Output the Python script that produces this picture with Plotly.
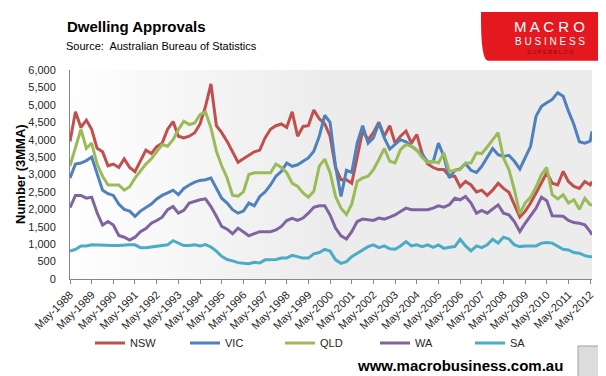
import plotly.graph_objects as go
import pandas as pd

# ---- data (quarterly readings, 3-month moving average, dwelling approvals) ----
dates = [d.strftime("%Y-%m-%d") for d in pd.date_range("1988-05-01", "2012-05-01", freq="3MS")] + ["2012-06-01"]

nsw = [3950, 4800, 4350, 4560, 4300, 3750, 3650, 3250, 3300, 3200, 3450, 3200, 3080, 3400, 3700, 3600, 3800,
       3900, 4300, 4520, 4100, 4050, 4100, 4200, 4450, 4950, 5600, 4400, 4200, 3950, 3650, 3350, 3450,
       3550, 3650, 3700, 4050, 4300, 4400, 4450, 4350, 4800, 4100, 4380, 4400, 4850, 4600, 4450, 4100,
       3200, 2850, 2850, 2750, 3500, 4250, 4000, 4200, 4500, 4100, 4400, 3900, 4100, 4250, 3900, 4150,
       3600, 3300, 3200, 3140, 3140, 2950, 2950, 2650, 2800, 2700, 2500, 2550, 2400, 2550, 2750, 2600,
       2490, 2130, 1780, 1940, 2180, 2470, 2750, 3050, 2750, 2700, 3090, 2800, 2660, 2600, 2800, 2700, 2800]

vic = [2900, 3300, 3330, 3400, 3500, 3050, 2550, 2450, 2400, 2150, 2000, 1950, 1800, 1950, 2050, 2150, 2300,
       2400, 2470, 2550, 2420, 2600, 2700, 2780, 2830, 2850, 2900, 2600, 2320, 2180, 1990, 1890, 1950,
       2180, 2100, 2370, 2500, 2700, 2950, 3090, 3330, 3235, 3280, 3380, 3475, 3670, 4100, 4700, 4500,
       3235, 2370, 3120, 3060, 3900, 4400, 3900, 4050, 4480, 4050, 3730, 3860, 4000, 3940, 3810, 3700,
       3570, 3360, 3360, 3900, 3520, 2900, 3120, 3160, 3310, 3120, 3060, 3235, 3475, 3745, 3570, 3520,
       3550, 3380, 3160, 3475, 3810, 4675, 4960, 5060, 5155, 5350, 5250, 4820, 4435, 3940, 3900, 3955, 4240]

qld = [3250, 3810, 4300, 3750, 3900, 3300, 2950, 2700, 2700, 2700, 2550, 2650, 2900, 3100, 3300, 3450, 3650,
       3860, 3810, 4000, 4290, 4530, 4435, 4480, 4720, 4800, 4340, 3670, 3250, 2900, 2400, 2380, 2500,
       3000, 3050, 3060, 3050, 3050, 3300, 3200, 3050, 2750, 2660, 2470, 2350, 2520, 3240, 3440, 3050,
       2370, 2035, 1850, 2150, 2800, 2900, 2950, 3140, 3430, 3750, 3380, 3330, 3715, 3860, 3810, 3700,
       3490, 3350, 3380, 3330, 3620, 3090, 3120, 3140, 3330, 3330, 3620, 3600, 3790, 4000, 4200, 3475,
       3140, 2560, 1870, 2180, 2350, 2640, 3000, 3200, 2420, 2300, 2420, 2180, 2275, 2000, 2320, 2130, 2130]

wa = [2050, 2400, 2400, 2320, 2350, 1900, 1550, 1650, 1550, 1250, 1200, 1120, 1200, 1360, 1450, 1600, 1680,
      1775, 1990, 2080, 1890, 1970, 2180, 2230, 2275, 2300, 2080, 1800, 1510, 1430, 1300, 1460, 1350,
      1240, 1300, 1360, 1360, 1360, 1410, 1510, 1680, 1740, 1680, 1750, 1890, 2060, 2100, 2100, 1840,
      1460, 1240, 1150, 1360, 1650, 1720, 1700, 1680, 1750, 1720, 1775, 1840, 1940, 2035, 1990, 1990,
      1990, 1990, 2035, 2100, 2060, 2130, 2320, 2275, 2370, 2180, 1890, 1970, 1890, 2000, 2130, 1890,
      1840, 1650, 1360, 1600, 1800, 2035, 2350, 2250, 1815, 1800, 1800, 1680, 1620, 1600, 1555, 1360, 1270]

sa = [800, 850, 950, 950, 980, 970, 960, 950, 960, 960, 980, 980, 980, 900, 900, 920, 950,
      950, 980, 1100, 1030, 960, 960, 980, 950, 990, 920, 800, 650, 560, 520, 470, 450,
      440, 480, 460, 550, 550, 560, 600, 600, 680, 640, 600, 600, 720, 760, 850, 800,
      550, 450, 500, 640, 740, 855, 930, 980, 900, 950, 865, 855, 950, 1075, 950, 980,
      930, 980, 910, 980, 880, 910, 930, 1140, 950, 805, 950, 900, 980, 1140, 1030, 1200,
      1150, 980, 930, 950, 950, 950, 1030, 1045, 1030, 950, 855, 835, 760, 740, 670, 640, 640]

series_names = ["NSW", "VIC", "QLD", "WA", "SA"]
series_values = [nsw, vic, qld, wa, sa]
series_colors = ["#C0504D", "#4F81BD", "#9BBB59", "#8064A2", "#4BACC6"]

title_text = "Dwelling Approvals"
source_text = "Source:\u00a0 Australian Bureau of Statistics"
y_title = "Number (3MMA)"
site_text = "www.macrobusiness.com.au"

# ---- geometry helpers (pixel -> paper) ----
W, H = 606, 376
ML, MR, MT, MB = 62, 22, 62, 105
PW, PH = W - ML - MR, H - MT - MB


def px(x):
    return (x - ML) / PW


def py(y):
    return (H - MB - y) / PH


FONT = "Liberation Sans"
TXT = "#262626"

fig = go.Figure()
for name, vals, col in zip(series_names, series_values, series_colors):
    fig.add_trace(go.Scatter(x=dates, y=vals, name=name, mode="lines",
                             line=dict(color=col, width=3)))

shapes = []
# gradient plot background (white on the left to light grey)
n = 24
for i in range(n):
    g = int(round(254 - (254 - 236) * i / (n - 1)))
    shapes.append(dict(type="rect", xref="paper", yref="paper", x0=0.5 * i / n, x1=0.5 * (i + 1) / n + 0.002,
                       y0=0, y1=1, fillcolor=f"rgb({g},{g},{g})", line=dict(width=0), layer="below"))
# logo box
x0, x1, y0, y1 = px(473), px(601), py(4), py(52.7)
shapes.append(dict(type="path", xref="paper", yref="paper",
                   path=f"M {x0} {y0} L {x0} {py(10)} Q {x0} {y1} {px(480)} {y1} L {x1} {y1} L {x1} {y0} Z",
                   fillcolor="#e4181f", line=dict(width=0)))
# wolf picture placeholder
shapes.append(dict(type="rect", xref="paper", yref="paper", x0=px(570), x1=px(598), y0=py(372), y1=py(338),
                   fillcolor="#dcdcdc", line=dict(color="#a0a0a0", width=1)))

annotations = [
    dict(text=f"<b>{title_text}</b>", x=px(57), y=py(19), xref="paper", yref="paper", xanchor="left",
         yanchor="middle", showarrow=False, font=dict(family=FONT, size=15, color="#000")),
    dict(text=source_text, x=px(56), y=py(38.5), xref="paper", yref="paper", xanchor="left",
         yanchor="middle", showarrow=False, font=dict(family=FONT, size=11, color="#000")),
    dict(text=f"<b>{y_title}</b>", x=px(12.5), y=0.5, xref="paper", yref="paper", xanchor="center",
         yanchor="middle", textangle=-90, showarrow=False, font=dict(family=FONT, size=13, color="#000")),
    dict(text="M A C R O", x=px(541.5), y=py(18.5), xref="paper", yref="paper", xanchor="center",
         yanchor="middle", showarrow=False, font=dict(family=FONT, size=15, color="#ffffff")),
    dict(text="B U S I N E S S", x=px(541.5), y=py(33), xref="paper", yref="paper", xanchor="center",
         yanchor="middle", showarrow=False, font=dict(family=FONT, size=10, color="#ffffff")),
    dict(text="S U P E R B L O G", x=px(541.5), y=py(44), xref="paper", yref="paper", xanchor="center",
         yanchor="middle", showarrow=False, font=dict(family=FONT, size=5.5, color="#8a0a0e")),
    dict(text=f"<b>{site_text}</b>", x=px(452), y=py(357), xref="paper", yref="paper", xanchor="center",
         yanchor="middle", showarrow=False, font=dict(family=FONT, size=15, color="#000")),
]

fig.update_layout(
    width=W, height=H,
    margin=dict(l=ML, r=MR, t=MT, b=MB),
    paper_bgcolor="#ffffff", plot_bgcolor="#ececec",
    font=dict(family=FONT, size=11, color=TXT),
    showlegend=True,
    legend=dict(orientation="h", x=px(82), xanchor="left", y=py(335), yanchor="middle",
                entrywidth=50, entrywidthmode="pixels", itemwidth=30,
                font=dict(family=FONT, size=11, color=TXT), bgcolor="rgba(0,0,0,0)"),
    shapes=shapes,
    annotations=annotations,
    xaxis=dict(type="date", range=["1988-05-01", "2012-06-01"], tick0="1988-05-01", dtick="M12",
               tickformat="%b-%Y", tickangle=-45, ticks="outside", ticklen=4, tickcolor="#868686",
               showline=True, linecolor="#868686", linewidth=1, showgrid=False, zeroline=False,
               tickfont=dict(family=FONT, size=11, color=TXT)),
    yaxis=dict(range=[0, 6000], dtick=500, tickformat=",", showline=True, linecolor="#868686",
               linewidth=1, showgrid=False, zeroline=False, ticks="", ticklabelstandoff=11,
               tickfont=dict(family=FONT, size=11, color=TXT)),
)

fig.write_html("out.html")
